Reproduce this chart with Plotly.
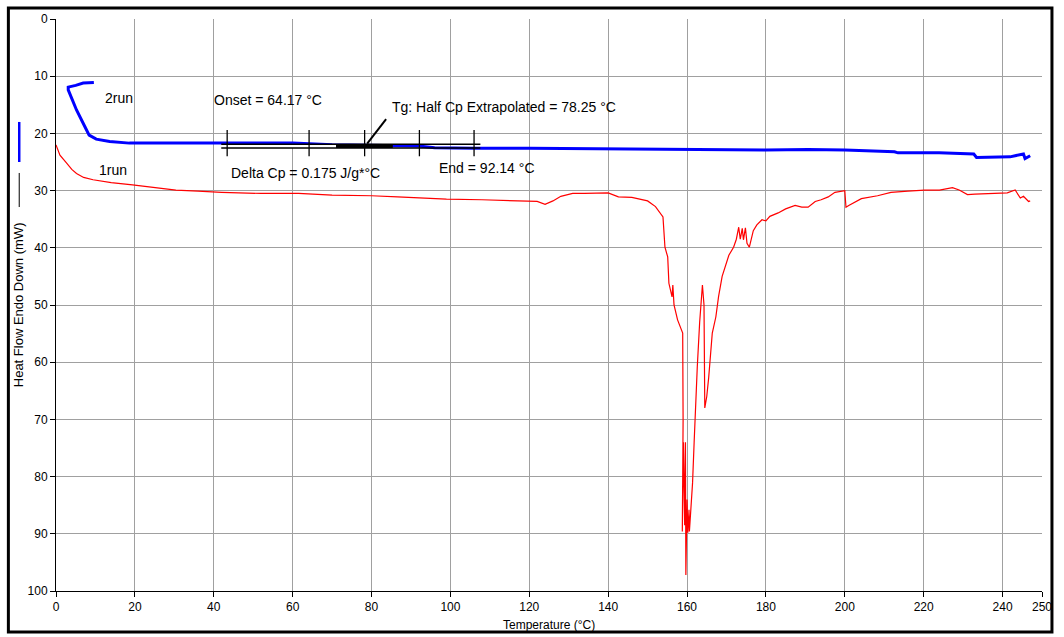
import plotly.graph_objects as go

# ---- data ----
run1_temp = [0, 1, 2.7, 4, 5.2, 7, 9.4, 14, 19.4, 25, 30.4, 36, 42, 52, 61.5, 70, 80, 86.6, 92, 99, 108, 117, 122,
             124, 126, 128, 131, 134, 137, 140, 142.6, 146, 150, 152, 153.9, 154.4, 155.1, 155.4, 156.2, 156.4,
             156.7, 157.6, 158.9, 159.0, 158.8, 159.1, 159.4, 159.6, 159.7, 160.0, 160.2, 160.5, 160.6, 161.0,
             161.4, 161.8, 162.2, 162.6, 163.2, 163.5, 163.9, 164.3, 164.5, 165.0, 165.5, 166.4, 167.3, 168.0,
             168.9, 170.6, 171.8, 172.5, 173.1, 173.5, 174.0, 174.3, 174.8, 175.2, 175.8, 176.8, 177.7, 179,
             180, 181, 183.1, 185, 187.4, 189.1, 190.7, 192.5, 194, 195.8, 197.5, 200, 200.3, 201, 204.2, 208.3,
             211.7, 216, 220.2, 224, 227.3, 229, 231.1, 233, 236, 241.2, 243.2, 244.5, 245.3, 246.6, 247]
run1_flow = [22.0, 23.8, 25.2, 26.3, 27.0, 27.7, 28.1, 28.6, 29.0, 29.4, 29.9, 30.1, 30.3, 30.5, 30.5, 30.8, 30.9,
             31.1, 31.3, 31.5, 31.6, 31.8, 31.9,
             32.4, 31.8, 31.0, 30.5, 30.5, 30.4, 30.4, 31.1, 31.2, 31.8, 32.8, 34.6, 39.9, 41.6, 46.2, 48.6, 46.5,
             50.0, 52.6, 54.9, 70.0, 89.6, 74.0, 88.5, 74.0, 97.2, 84.0, 89.8, 85.8, 89.6, 85.8,
             81.1, 74.0, 66.6, 60.8, 53.0, 50.3, 46.5, 50.0, 68.0, 66.0, 62.6, 54.9, 52.1, 48.5,
             45.0, 41.3, 39.9, 38.5, 36.4, 38.5, 36.6, 38.6, 36.5, 39.2, 39.9, 37.0, 36.0, 35.1,
             35.3, 34.5, 33.9, 33.2, 32.6, 32.9, 32.9, 31.9, 31.6, 31.1, 30.3, 30.0, 32.9, 32.6, 31.4, 30.9,
             30.3, 30.1, 29.9, 29.9, 29.5, 29.9, 30.7, 30.6, 30.5, 30.4, 29.9, 31.3, 31.0, 31.9, 31.8]

run2_temp = [9.6, 6.9, 5, 3.1, 3.1, 5.2, 7.3, 8.4, 10.2, 13.6, 18.6, 30, 52, 60, 70, 80, 85.4, 92, 96, 106, 120,
             150, 180, 190.7, 200, 212.6, 213.5, 223.9, 232.7, 233.4, 241.9, 245.3, 245.7, 247]
run2_flow = [11.1, 11.2, 11.6, 11.9, 12.4, 15.9, 18.8, 20.3, 21.0, 21.4, 21.7, 21.7, 21.6, 21.7, 22.0, 22.1, 22.2,
             22.2, 22.5, 22.6, 22.6, 22.8, 22.9, 22.8, 22.9, 23.2, 23.4, 23.4, 23.6, 24.2, 24.1, 23.6, 24.4, 23.9]

x_ticks = [0, 20, 40, 60, 80, 100, 120, 140, 160, 180, 200, 220, 240, 250]
y_ticks = [0, 10, 20, 30, 40, 50, 60, 70, 80, 90, 100]

onset = 64.17
tg = 78.25
end = 92.14
delta_cp = 0.175

FONT = "Arial, Liberation Sans, sans-serif"

fig = go.Figure()
fig.add_trace(go.Scatter(x=run1_temp, y=run1_flow, mode="lines", line=dict(color="#ff0000", width=1.2),
                         name="1run", showlegend=False))
fig.add_trace(go.Scatter(x=run2_temp, y=run2_flow, mode="lines", line=dict(color="#0000ff", width=3),
                         name="2run", showlegend=False))

shapes = []
# white mask where the analysis box hides the curve
shapes.append(dict(type="rect", xref="x", yref="y", x0=52, x1=71, y0=21.85, y1=22.55,
                   fillcolor="white", line=dict(width=0), layer="above"))
# analysis box (double line)
shapes.append(dict(type="line", xref="x", yref="y", x0=41.9, x1=107.6, y0=21.9, y1=21.9,
                   line=dict(color="black", width=1.5), layer="above"))
shapes.append(dict(type="line", xref="x", yref="y", x0=41.9, x1=107.6, y0=22.55, y1=22.55,
                   line=dict(color="black", width=1.5), layer="above"))
# thick segment
shapes.append(dict(type="line", xref="x", yref="y", x0=71, x1=85.4, y0=22.2, y1=22.2,
                   line=dict(color="black", width=4), layer="above"))
# vertical ticks
for tx in [43.4, onset, tg, end, 106.0]:
    shapes.append(dict(type="line", xref="x", yref="y", x0=tx, x1=tx, y0=19.4, y1=24.0,
                       line=dict(color="black", width=1.3), layer="above"))
# pointer
shapes.append(dict(type="line", xref="x", yref="y", x0=78.9, x1=83.7, y0=21.8, y1=17.5,
                   line=dict(color="black", width=2), layer="above"))
# outer frame
shapes.append(dict(type="rect", xref="paper", yref="paper", x0=-0.0483, x1=1.0101, y0=-0.0717, y1=1.0192,
                   line=dict(color="black", width=3), fillcolor="rgba(0,0,0,0)", layer="above"))
# y title legend marks
shapes.append(dict(type="line", xref="paper", yref="paper", x0=-0.0373, x1=-0.0373, y0=0.75, y1=0.82,
                   line=dict(color="#0000ff", width=2.5)))
shapes.append(dict(type="line", xref="paper", yref="paper", x0=-0.0373, x1=-0.0373, y0=0.6713, y1=0.7308,
                   line=dict(color="black", width=1)))

ann_font = dict(family=FONT, size=14, color="black")
annotations = [
    dict(x=11.8, y=13.8, text="2run", xanchor="left", yanchor="middle", showarrow=False, font=ann_font),
    dict(x=10.3, y=26.4, text="1run", xanchor="left", yanchor="middle", showarrow=False, font=ann_font),
    dict(x=39.5, y=14.2, text=f"Onset = {onset:.2f} °C", xanchor="left", yanchor="middle", showarrow=False, font=ann_font),
    dict(x=84.8, y=15.3, text=f"Tg: Half Cp Extrapolated = {tg:.2f} °C", xanchor="left", yanchor="middle",
         showarrow=False, font=ann_font),
    dict(x=43.8, y=27.0, text=f"Delta Cp = {delta_cp:.3f} J/g*°C", xanchor="left", yanchor="middle",
         showarrow=False, font=ann_font),
    dict(x=96.7, y=26.1, text=f"End = {end:.2f} °C", xanchor="left", yanchor="middle", showarrow=False, font=ann_font),
    dict(xref="paper", yref="paper", x=-0.0383, y=0.5, text="Heat Flow Endo Down (mW)", textangle=-90,
         showarrow=False, xanchor="center", yanchor="middle", font=dict(family=FONT, size=13, color="black")),
    dict(xref="paper", yref="paper", x=0.5, y=-0.0594, text="Temperature (°C)", showarrow=False,
         xanchor="center", yanchor="middle", font=dict(family=FONT, size=12, color="black")),
]

fig.update_layout(
    width=1064, height=637,
    margin=dict(l=56, r=15, t=19, b=46),
    paper_bgcolor="white", plot_bgcolor="white",
    shapes=shapes, annotations=annotations,
    font=dict(family=FONT, size=12, color="black"),
    showlegend=False,
)
fig.update_xaxes(range=[0, 250], tickvals=x_ticks, ticktext=[str(v) for v in x_ticks],
                 showgrid=True, gridcolor="#a0a0a0", gridwidth=1,
                 showline=True, linecolor="black", linewidth=1,
                 ticks="outside", ticklen=5, tickcolor="black", zeroline=False,
                 tickfont=dict(family=FONT, size=12, color="black"))
fig.update_yaxes(range=[100, 0], tickvals=y_ticks, ticktext=[str(v) for v in y_ticks],
                 showgrid=True, gridcolor="#a0a0a0", gridwidth=1,
                 showline=True, linecolor="black", linewidth=1,
                 ticks="outside", ticklen=5, tickcolor="black", zeroline=False,
                 tickfont=dict(family=FONT, size=12, color="black"))

fig.write_html("out.html")
